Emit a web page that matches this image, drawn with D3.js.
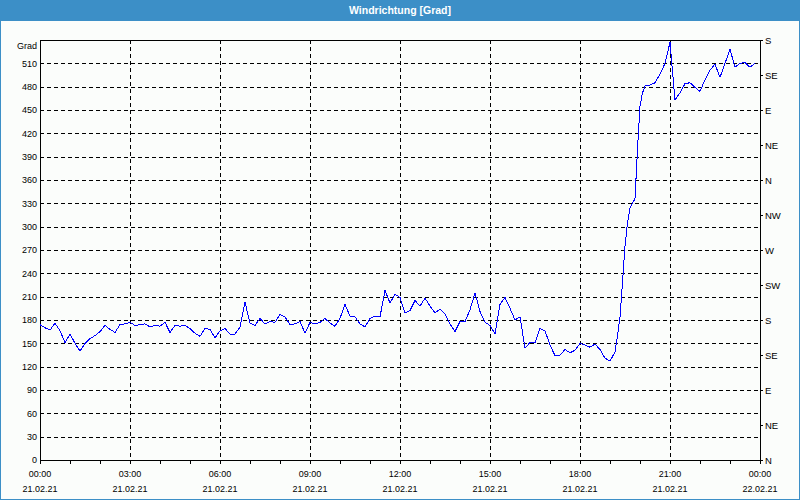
<!DOCTYPE html>
<html>
<head>
<meta charset="utf-8">
<script src="https://cdn.jsdelivr.net/npm/d3@7"></script>
<style>
  html, body { margin: 0; padding: 0; background: #ffffff; }
  svg { display: block; }
  text { font-family: "Liberation Sans", Arial, sans-serif; }
</style>
</head>
<body>
<svg id="chart" width="800" height="500"></svg>
<script>
// ---- data ----
const title = "Windrichtung [Grad]";
const unitLabel = "Grad";
const times = [
  "00:00","00:10","00:20","00:30","00:40","00:50","01:00","01:10","01:20","01:30","01:40","01:50",
  "02:00","02:10","02:20","02:30","02:40","02:50","03:00","03:10","03:20","03:30","03:40","03:50",
  "04:00","04:10","04:20","04:30","04:40","04:50","05:00","05:10","05:20","05:30","05:40","05:50",
  "06:00","06:10","06:20","06:30","06:40","06:50","07:00","07:10","07:20","07:30","07:40","07:50",
  "08:00","08:10","08:20","08:30","08:40","08:50","09:00","09:10","09:20","09:30","09:40","09:50",
  "10:00","10:10","10:20","10:30","10:40","10:50","11:00","11:10","11:20","11:30","11:40","11:50",
  "12:00","12:10","12:20","12:30","12:40","12:50","13:00","13:10","13:20","13:30","13:40","13:50",
  "14:00","14:10","14:20","14:30","14:40","14:50","15:00","15:10","15:20","15:30","15:40","15:50",
  "16:00","16:10","16:20","16:30","16:40","16:50","17:00","17:10","17:20","17:30","17:40","17:50",
  "18:00","18:10","18:20","18:30","18:40","18:50","19:00","19:10","19:15","19:20","19:25","19:30",
  "19:35","19:40","19:50","19:55","20:00","20:05","20:10","20:20","20:30","20:40","20:50","21:00",
  "21:10","21:20","21:30","21:40","21:50","22:00","22:10","22:20","22:30","22:40","22:50","23:00",
  "23:10","23:20","23:30","23:40","23:50"
];
const direction = [
  174,170,167,176,166,151,162,150,140,150,156,160,
  165,173,168,164,174,175,177,173,174,175,171,173,
  172,177,164,173,172,173,169,163,159,169,168,157,
  166,169,162,162,171,203,176,173,182,175,178,177,
  187,184,174,175,178,163,177,175,177,182,176,172,
  182,200,185,184,175,171,182,185,184,218,202,213,
  209,189,192,205,198,208,198,189,194,188,175,165,
  178,178,193,215,191,177,173,162,200,209,195,180,
  184,144,151,151,169,166,148,134,135,142,138,141,
  150,148,145,149,142,131,127,139,160,184,228,275,
  305,324,336,400,455,472,481,482,485,496,510,537,
  463,472,484,485,479,474,489,501,509,492,510,528,
  505,510,511,505,510
];
const yTicks = [0,30,60,90,120,150,180,210,240,270,300,330,360,390,420,450,480,510];
const compassValues = [0,45,90,135,180,225,270,315,360,405,450,495,540];
const compassLabels = ["N","NE","E","SE","S","SW","W","NW","N","NE","E","SE","S"];
const hourTicks = d3.range(0, 25);           // hourly minor ticks (hours)
const labelHours = [0,3,6,9,12,15,18,21,24];
const timeLabels = ["00:00","03:00","06:00","09:00","12:00","15:00","18:00","21:00","00:00"];
const dateLabels = ["21.02.21","21.02.21","21.02.21","21.02.21","21.02.21","21.02.21","21.02.21","21.02.21","22.02.21"];

// ---- layout ----
const W = 800, H = 500;
const L = 40, R = 760, T = 40, B = 460;
const svg = d3.select("#chart");

const toMin = s => { const [h, m] = s.split(":").map(Number); return h * 60 + m; };
const x = d3.scaleLinear().domain([0, 1440]).range([L, R]);
const y = d3.scaleLinear().domain([0, 540]).range([B, T]);

// window frame
svg.append("rect").attr("x", 0).attr("y", 0).attr("width", W).attr("height", H).attr("fill", "#3c8fc7");
svg.append("rect").attr("x", 1).attr("y", 21).attr("width", W - 2).attr("height", H - 22).attr("fill", "#fbfdfb");
svg.append("text").attr("x", W / 2).attr("y", 14).attr("text-anchor", "middle")
  .attr("fill", "#ffffff").attr("font-size", "10.5px").attr("font-weight", "bold").text(title);

// grid
const grid = svg.append("g").attr("shape-rendering", "crispEdges")
  .attr("stroke", "#000").attr("stroke-width", 1).attr("stroke-dasharray", "4,3");
grid.selectAll("line.h").data(yTicks.filter(v => v > 0)).join("line").attr("class", "h")
  .attr("x1", L).attr("x2", R).attr("y1", d => Math.round(y(d)) + 0.5).attr("y2", d => Math.round(y(d)) + 0.5);
grid.selectAll("line.v").data(labelHours.filter(h => h > 0 && h < 24)).join("line").attr("class", "v")
  .attr("y1", T).attr("y2", B).attr("x1", d => Math.round(x(d * 60)) + 0.5).attr("x2", d => Math.round(x(d * 60)) + 0.5);

// plot frame
svg.append("rect").attr("x", L + 0.5).attr("y", T + 0.5).attr("width", R - L).attr("height", B - T)
  .attr("fill", "none").attr("stroke", "#000").attr("shape-rendering", "crispEdges");

// left axis
const yAxis = d3.axisLeft(y).tickValues(yTicks).tickSize(0).tickPadding(3).tickFormat(d3.format("d"));
const gy = svg.append("g").attr("transform", `translate(${L},0)`).call(yAxis);
gy.select(".domain").remove();
gy.selectAll("text").attr("font-size", "9px").attr("fill", "#000").attr("font-family", "Liberation Sans, Arial, sans-serif");
svg.append("text").attr("x", 37).attr("y", 48.5).attr("text-anchor", "end")
  .attr("font-size", "9px").attr("fill", "#000").text(unitLabel);

// right compass axis
const yc = d3.scaleLinear().domain([0, 540]).range([B, T]);
const rAxis = d3.axisRight(yc).tickValues(compassValues).tickSize(3).tickPadding(2)
  .tickFormat((d, i) => compassLabels[i]);
const gr = svg.append("g").attr("transform", `translate(${R},0)`).attr("shape-rendering", "crispEdges").call(rAxis);
gr.select(".domain").remove();
gr.selectAll("text").attr("font-size", "9.5px").attr("fill", "#000").attr("font-family", "Liberation Sans, Arial, sans-serif");

// bottom axis
const xAxis = d3.axisBottom(x).tickValues(hourTicks.map(h => h * 60)).tickSize(4).tickFormat("");
const gx = svg.append("g").attr("transform", `translate(0,${B})`).attr("shape-rendering", "crispEdges").call(xAxis);
gx.select(".domain").remove();
const lab = svg.append("g").attr("font-size", "9px").attr("fill", "#000").attr("text-anchor", "middle");
lab.selectAll("text.t").data(labelHours).join("text").attr("class", "t")
  .attr("x", d => x(d * 60)).attr("y", 477).text((d, i) => timeLabels[i]);
lab.selectAll("text.d").data(labelHours).join("text").attr("class", "d")
  .attr("x", d => x(d * 60)).attr("y", 492).text((d, i) => dateLabels[i]);

// data line
const pts = times.map((t, i) => ({ t: toMin(t), v: direction[i] }));
svg.append("path").datum(pts)
  .attr("fill", "none").attr("stroke", "#0000ff").attr("stroke-width", 1)
  .attr("shape-rendering", "crispEdges")
  .attr("d", d3.line().x(d => x(d.t)).y(d => y(d.v)));
</script>
</body>
</html>
